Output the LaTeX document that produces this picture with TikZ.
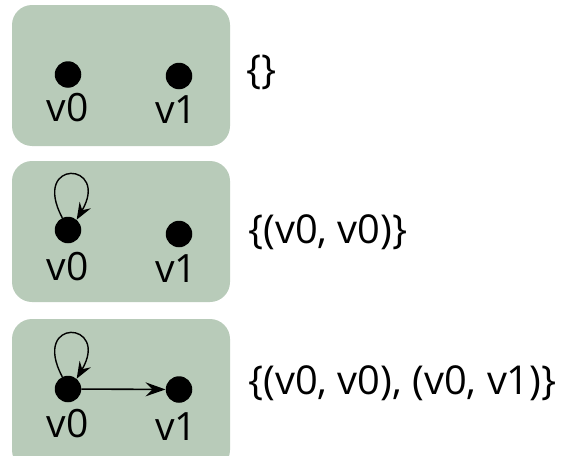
\documentclass[tikz,border=0pt]{standalone}
\usepackage{fontspec}
\setmainfont{Open Sans}
\usetikzlibrary{arrows.meta}
\definecolor{sage}{RGB}{184,203,185}
\tikzset{
  panel/.style={fill=sage, draw=none, rounded corners=20pt},
  dot/.style={circle, fill=black, inner sep=0pt, minimum size=26.5pt},
  vlabel/.style={inner sep=0pt, font=\fontsize{39}{46}\selectfont},
  settext/.style={inner sep=0pt, anchor=west, font=\fontsize{39.8}{46}\selectfont},
  edge/.style={line width=1.6pt, -{Stealth[length=20pt,width=14pt,inset=7pt]}},
  loopedge/.style={line width=1.4pt, -{Stealth[length=17pt,width=13pt,inset=6pt]}}
}
\begin{document}
\begin{tikzpicture}[x=1pt,y=-1pt]
\useasboundingbox (0,0) rectangle (562,455);
% panel 1
\fill[panel] (12,5) rectangle (230,146);
\node[dot] (a0) at (68,74.5) {};
\node[dot] (a1) at (179,76) {};
\node[vlabel] (la0) at (67.5,107.5) {v0};
\node[vlabel] (la1) at (176,110) {v1};
\node[settext] (ta) at (246,72) {\{\}};
% panel 2
\fill[panel] (12,161) rectangle (230,302);
\node[dot] (b0) at (68,230) {};
\node[dot] (b1) at (179,234) {};
\node[vlabel] (lb0) at (67.5,266.5) {v0};
\node[vlabel] (lb1) at (176,268.5) {v1};
\draw[loopedge] (b0.115) .. controls +(-32,-60) and +(34,-58) .. (b0.50);
\node[settext] (tb) at (248,232) {\{(v0, v0)\}};
% panel 3
\fill[panel] (12,319) rectangle (230,470);
\node[dot] (c0) at (68,389) {};
\node[dot] (c1) at (179,389.5) {};
\node[vlabel] (lc0) at (67.5,424) {v0};
\node[vlabel] (lc1) at (176,426.5) {v1};
\draw[loopedge] (c0.115) .. controls +(-32,-60) and +(34,-58) .. (c0.50);
\draw[edge] (c0) -- (c1);
\node[settext] (tc) at (248,383) {\{(v0, v0), (v0, v1)\}};
\end{tikzpicture}
\end{document}
